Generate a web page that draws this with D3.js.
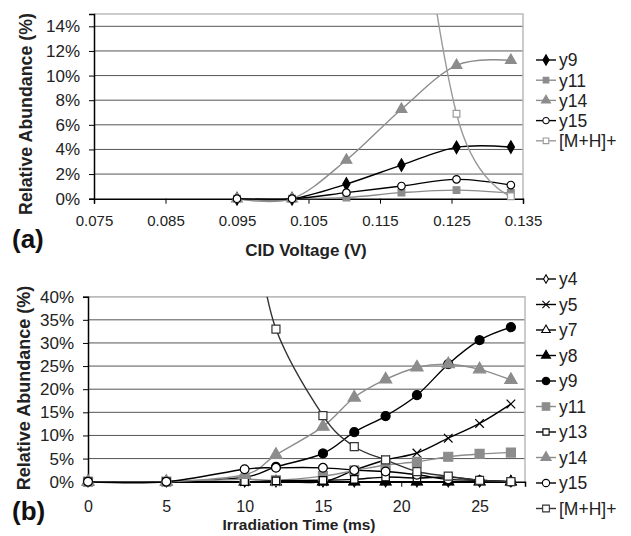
<!DOCTYPE html>
<html lang="en">
<head>
<meta charset="utf-8">
<title>Relative abundance</title>
<script src="https://cdn.jsdelivr.net/npm/d3@7"></script>
<style>
  body { margin: 0; background: #fff; }
  text { font-family: "Liberation Sans", Arial, sans-serif; }
</style>
</head>
<body>
<svg width="631" height="536" id="mainsvg"></svg>
<script>
// panel (a): CID voltage
const voltage = [0.095, 0.1027, 0.1103, 0.118, 0.1257, 0.1333];
const voltTicks = [0.075, 0.085, 0.095, 0.105, 0.115, 0.125, 0.135];
const a_y9  = [0, 0, 1.19, 2.73, 4.17, 4.19];
const a_y11 = [0, 0, 0.1, 0.49, 0.7, 0.46];
const a_y14 = [0, 0, 3.14, 7.27, 10.83, 11.24];
const a_y15 = [0, 0, 0.49, 1.03, 1.57, 1.11];
const a_mh  = [100, 90, 70, 35, 6.9, 0.2];
const aPctTicks = [0, 2, 4, 6, 8, 10, 12, 14];

// panel (b): irradiation time
const time = [0, 5, 10, 12, 15, 17, 19, 21, 23, 25, 27];
const timeTicks = [0, 5, 10, 15, 20, 25];
const b_y4  = [0, 0, 0, 0, 0, 0, 0, 0, 0, 0, 0];
const b_y5  = [0, 0, 0, 0, 0, 2.5, 4.7, 6.2, 9.4, 12.6, 16.8];
const b_y7  = [0, 0, 0, 0, 0, 0, 0, 0, 0, 0, 0];
const b_y8  = [0, 0, 0, 0, 0, 0, 0, 0, 0, 0, 0];
const b_y9  = [0, 0, 1.0, 3.2, 6.1, 10.7, 14.2, 18.7, 25.4, 30.6, 33.4];
const b_y11 = [0, 0, 0.5, 0.3, 1.2, 2.4, 3.6, 4.3, 5.4, 6.0, 6.3];
const b_y13 = [0, 0, 0, 0.2, 0.3, 0.5, 1.0, 0.8, 1.0, 0.3, 0];
const b_y14 = [0, 0, 1.5, 5.8, 11.9, 18.2, 22.1, 24.7, 25.4, 24.3, 22.0];
const b_y15 = [0, 0, 2.7, 3.0, 3.0, 2.5, 2.2, 1.5, 0.5, 0.3, 0];
const b_mh  = [100, 100, 60, 33, 14.3, 7.6, 4.7, 2.2, 1.2, 0.3, 0];
const bPctTicks = [0, 5, 10, 15, 20, 25, 30, 35, 40];

const svg = d3.select('#mainsvg');
const GREY = '#8c8c8c';

// 样式: [name, values, line colour, symbol, size, fill, stroke]
const seriesA = [
  ['y9', a_y9, '#000', d3.symbolDiamond, 45, '#000', '#000'],
  ['y11', a_y11, GREY, d3.symbolSquare, 45, GREY, GREY],
  ['y14', a_y14, GREY, d3.symbolTriangle, 50, GREY, GREY],
  ['y15', a_y15, '#000', d3.symbolCircle, 45, '#fff', '#000'],
  ['[M+H]+', a_mh, '#9a9a9a', d3.symbolSquare, 45, '#fff', '#9a9a9a'],
];
const seriesB = [
  ['y4', b_y4, '#000', d3.symbolDiamond, 30, '#fff', '#000'],
  ['y5', b_y5, '#000', d3.symbolTimes, 50, 'none', '#000'],
  ['y7', b_y7, '#000', d3.symbolTriangle, 45, '#fff', '#000'],
  ['y8', b_y8, '#000', d3.symbolTriangle, 50, '#000', '#000'],
  ['y9', b_y9, '#000', d3.symbolCircle, 64, '#000', '#000'],
  ['y11', b_y11, GREY, d3.symbolSquare, 81, GREY, GREY],
  ['y13', b_y13, '#000', d3.symbolSquare, 55, '#fff', '#000'],
  ['y14', b_y14, GREY, d3.symbolTriangle, 65, GREY, GREY],
  ['y15', b_y15, '#000', d3.symbolCircle, 60, '#fff', '#000'],
  ['[M+H]+', b_mh, '#333', d3.symbolSquare, 64, '#fff', '#333'],
];

function panel(opt) {
  const x = d3.scaleLinear().domain(opt.xDomain).range([opt.left, opt.right]);
  const y = d3.scaleLinear().domain(opt.yDomain).range([opt.bottom, opt.top]);
  const g = svg.append('g');

  // 网格线
  g.selectAll('.grid').data(opt.yTicks.filter(d => d > 0)).join('line')
    .attr('x1', opt.left).attr('x2', opt.right)
    .attr('y1', d => y(d)).attr('y2', d => y(d))
    .attr('stroke', '#555').attr('stroke-width', 1);
  // plot border (top/right)
  g.append('path')
    .attr('d', `M${opt.left},${opt.top}H${opt.right}V${opt.bottom}`)
    .attr('fill', 'none').attr('stroke', '#bbb').attr('stroke-width', 1.5);

  // axes
  const yAxis = d3.axisLeft(y).tickValues(opt.yTicks).tickSize(5).tickFormat(d => d + '%');
  const ya = g.append('g').attr('transform', `translate(${opt.left},0)`).call(yAxis);
  ya.select('.domain').attr('stroke', '#000').attr('stroke-width', 1.5);
  ya.selectAll('.tick line').attr('stroke', '#000');
  ya.selectAll('.tick text').attr('font-size', opt.yTickFont).attr('fill', '#222')
    .attr('x', opt.yLabelRight - opt.left);

  const xAxis = d3.axisBottom(x).tickValues(opt.xTicks).tickSize(5).tickFormat(opt.xFormat);
  const xa = g.append('g').attr('transform', `translate(0,${opt.bottom})`).call(xAxis);
  xa.select('.domain').attr('stroke', '#000').attr('stroke-width', 1.5);
  xa.selectAll('.tick line').attr('stroke', '#000');
  xa.selectAll('.tick text').attr('font-size', opt.xTickFont).attr('fill', '#222')
    .attr('y', opt.xLabelDy).attr('dy', 0);

  // lines, clipped to plot
  const clipId = 'clip-' + opt.id;
  svg.append('clipPath').attr('id', clipId).append('rect')
    .attr('x', opt.left - 8).attr('y', opt.top)
    .attr('width', opt.right - opt.left + 16).attr('height', opt.bottom - opt.top + 8);
  const plot = g.append('g').attr('clip-path', `url(#${clipId})`);
  const line = d3.line()
    .x((d, i) => x(opt.xs[i]))
    .y(d => y(d))
    .curve(d3.curveCardinal.tension(0));

  opt.series.forEach(s => {
    plot.append('path').datum(s[1])
      .attr('d', line)
      .attr('fill', 'none').attr('stroke', s[2]).attr('stroke-width', 1.4);
  });
  opt.series.forEach(s => {
    const sym = d3.symbol().type(s[3]).size(s[4]);
    plot.selectAll(null).data(s[1].map((v, i) => [opt.xs[i], v]).filter(d => d[1] <= opt.yDomain[1]))
      .join('path')
      .attr('transform', d => `translate(${x(d[0])},${y(d[1])})`)
      .attr('d', sym)
      .attr('fill', s[5]).attr('stroke', s[6]).attr('stroke-width', 1.2);
  });

  // titles
  g.append('text').text('Relative Abundance (%)')
    .attr('transform', `translate(${opt.yTitleX},${opt.yTitleY}) rotate(-90)`)
    .attr('text-anchor', 'middle').attr('font-size', opt.yTitleFont).attr('font-weight', 'bold').attr('fill', '#222');
  g.append('text').text(opt.xTitle)
    .attr('x', opt.xTitleX).attr('y', opt.xTitleY)
    .attr('text-anchor', 'middle').attr('font-size', opt.xTitleFont).attr('font-weight', 'bold').attr('fill', '#222');
  g.append('text').text(opt.tag)
    .attr('x', 12).attr('y', opt.tagY)
    .attr('font-size', 26).attr('font-weight', 'bold').attr('fill', '#111');

  // 图例
  const lg = g.append('g');
  opt.series.forEach((s, i) => {
    const ly = opt.legendTop + i * opt.legendStep;
    lg.append('line').attr('x1', 536).attr('x2', 556).attr('y1', ly).attr('y2', ly)
      .attr('stroke', s[2]).attr('stroke-width', 1.4);
    lg.append('path').attr('transform', `translate(546,${ly})`)
      .attr('d', d3.symbol().type(s[3]).size(s[4] * 0.7))
      .attr('fill', s[5]).attr('stroke', s[6]).attr('stroke-width', 1.1);
    lg.append('text').text(s[0]).attr('x', 559).attr('y', ly).attr('dy', '0.36em')
      .attr('font-size', 17.5).attr('fill', '#222');
  });
}

panel({
  id: 'a', xs: voltage, series: seriesA,
  xDomain: [0.075, 0.135], yDomain: [0, 15],
  left: 94, right: 523, top: 14, bottom: 198.7,
  xTicks: voltTicks, yTicks: aPctTicks, xFormat: d3.format('.3f'),
  yTickFont: 17, xTickFont: 15,
  yLabelRight: 80, xLabelDy: 27,
  yTitleX: 32, yTitleY: 114, yTitleFont: 17.8,
  xTitle: 'CID Voltage (V)', xTitleX: 306, xTitleY: 256, xTitleFont: 17,
  tag: '(a)', tagY: 248,
  legendTop: 60, legendStep: 20.2
});

panel({
  id: 'b', xs: time, series: seriesB,
  xDomain: [0, 27.9], yDomain: [0, 40],
  left: 88, right: 525, top: 296.7, bottom: 481.7,
  xTicks: timeTicks, yTicks: bPctTicks, xFormat: d3.format('d'),
  yTickFont: 17, xTickFont: 16,
  yLabelRight: 74, xLabelDy: 30,
  yTitleX: 30, yTitleY: 388, yTitleFont: 18,
  xTitle: 'Irradiation Time (ms)', xTitleX: 299, xTitleY: 530, xTitleFont: 15.5,
  tag: '(b)', tagY: 520,
  legendTop: 279, legendStep: 25.5
});
</script>
</body>
</html>
